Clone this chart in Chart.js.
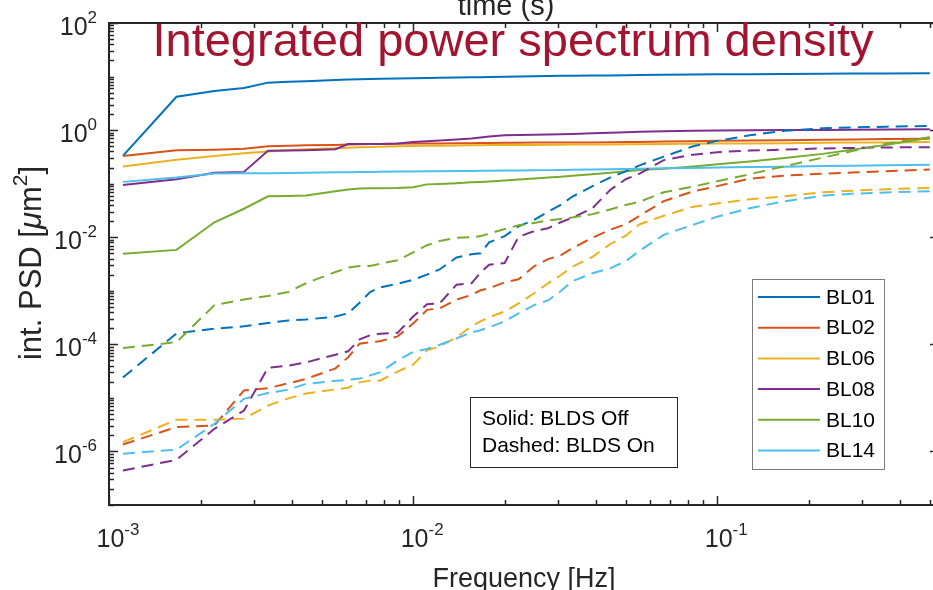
<!DOCTYPE html>
<html>
<head>
<meta charset="utf-8">
<title>Integrated PSD</title>
<script src="https://cdn.jsdelivr.net/npm/chart.js@4.4.0/dist/chart.umd.min.js"></script>
<style>
  html, body { margin: 0; padding: 0; background: #fff; overflow: hidden; }
  #wrap { width: 933px; height: 590px; overflow: hidden; position: relative; }
</style>
</head>
<body>
<div id="wrap"><canvas id="psd" width="945" height="590"></canvas></div>
<script>
// frequency bins [Hz]
const freqHz = [0.001111, 0.001667, 0.002222, 0.002778, 0.003333, 0.003889, 0.004444, 0.005556,
  0.006111, 0.006667, 0.007222, 0.007778, 0.008889, 0.01, 0.01111, 0.01222, 0.01389, 0.01556,
  0.01667, 0.01778, 0.02, 0.02222, 0.025, 0.02778, 0.03056, 0.03333, 0.03889, 0.04444, 0.05,
  0.05556, 0.06667, 0.08333, 0.1, 0.1278, 0.1667, 0.2222, 0.2778, 0.3611, 0.5];

const beamlines = ["BL01", "BL02", "BL06", "BL08", "BL10", "BL14"];

// integrated PSD [um^2], BLDS off (solid)
const bl01Off = [0.33, 4.2, 5.4, 6.1, 7.7, 8.0, 8.2, 8.6, 8.8, 8.9, 9.0, 9.1, 9.2, 9.3, 9.4, 9.5, 9.6, 9.7, 9.75, 9.8,
  9.9, 10.0, 10.1, 10.2, 10.3, 10.35, 10.45, 10.5, 10.6, 10.7, 10.8, 10.9, 11.0, 11.1, 11.2, 11.3, 11.35, 11.45, 11.5];
const bl02Off = [0.33, 0.42, 0.43, 0.45, 0.50, 0.51, 0.52, 0.53, 0.54, 0.545, 0.55, 0.55, 0.555, 0.56, 0.56, 0.565,
  0.57, 0.57, 0.575, 0.575, 0.58, 0.58, 0.585, 0.585, 0.59, 0.59, 0.59, 0.595, 0.6, 0.6, 0.61, 0.62, 0.63, 0.64,
  0.65, 0.66, 0.67, 0.68, 0.69];
const bl06Off = [0.21, 0.28, 0.33, 0.37, 0.40, 0.42, 0.44, 0.46, 0.47, 0.48, 0.485, 0.49, 0.50, 0.505, 0.51, 0.51,
  0.515, 0.52, 0.52, 0.525, 0.525, 0.53, 0.53, 0.535, 0.535, 0.54, 0.54, 0.54, 0.545, 0.545, 0.55, 0.555, 0.56,
  0.565, 0.57, 0.58, 0.585, 0.59, 0.60];
const bl08Off = [0.094, 0.121, 0.16, 0.166, 0.41, 0.415, 0.42, 0.44, 0.55, 0.55, 0.55, 0.55, 0.56, 0.60, 0.62, 0.64,
  0.67, 0.70, 0.73, 0.76, 0.80, 0.81, 0.82, 0.83, 0.84, 0.85, 0.87, 0.89, 0.91, 0.93, 0.95, 0.97, 0.98, 0.99, 1.0,
  1.01, 1.02, 1.03, 1.04];
const bl10Off = [0.0049, 0.0058, 0.019, 0.034, 0.058, 0.059, 0.060, 0.072, 0.078, 0.081, 0.082, 0.082, 0.083, 0.086,
  0.097, 0.099, 0.102, 0.106, 0.108, 0.11, 0.115, 0.12, 0.125, 0.13, 0.135, 0.14, 0.15, 0.16, 0.17, 0.18, 0.19,
  0.21, 0.23, 0.26, 0.30, 0.36, 0.43, 0.53, 0.72];
const bl14Off = [0.108, 0.13, 0.155, 0.156, 0.157, 0.158, 0.16, 0.163, 0.164, 0.165, 0.166, 0.167, 0.168, 0.169,
  0.17, 0.171, 0.172, 0.173, 0.174, 0.175, 0.176, 0.177, 0.178, 0.179, 0.18, 0.181, 0.183, 0.185, 0.187, 0.19,
  0.193, 0.197, 0.2, 0.204, 0.208, 0.213, 0.217, 0.221, 0.225];

// integrated PSD [um^2], BLDS on (dashed)
const bl01On = [2.4e-5, 1.6e-4, 1.96e-4, 2.17e-4, 2.5e-4, 2.8e-4, 2.9e-4, 3.3e-4, 3.8e-4, 6.0e-4, 9.5e-4, 1.15e-3,
  1.35e-3, 1.6e-3, 2.0e-3, 2.5e-3, 4.2e-3, 4.8e-3, 5.0e-3, 8.0e-3, 1.05e-2, 1.6e-2, 2.1e-2, 3.0e-2, 4.0e-2, 5.7e-2,
  9.0e-2, 0.13, 0.17, 0.22, 0.32, 0.50, 0.63, 0.80, 0.97, 1.08, 1.12, 1.16, 1.2];
const bl02On = [1.35e-6, 2.85e-6, 3.06e-6, 1.38e-5, 1.52e-5, 1.87e-5, 2.26e-5, 3.56e-5, 5.7e-5, 1.03e-4, 1.1e-4,
  1.14e-4, 1.41e-4, 2.44e-4, 4.4e-4, 4.7e-4, 6.8e-4, 8.4e-4, 1.02e-3, 1.11e-3, 1.44e-3, 1.64e-3, 2.87e-3, 3.9e-3,
  4.6e-3, 6.2e-3, 9.8e-3, 1.38e-2, 1.75e-2, 2.52e-2, 4.7e-2, 7.2e-2, 9.0e-2, 0.124, 0.141, 0.154, 0.161, 0.171, 0.184];
const bl06On = [1.49e-6, 3.9e-6, 3.9e-6, 4.1e-6, 7.2e-6, 9.8e-6, 1.21e-5, 1.44e-5, 1.55e-5, 1.95e-5, 2.1e-5, 2.1e-5,
  3.1e-5, 4.2e-5, 7.7e-5, 9.2e-5, 1.35e-4, 2.17e-4, 2.69e-4, 3.2e-4, 4.1e-4, 5.8e-4, 9.0e-4, 1.38e-3, 1.95e-3, 2.8e-3,
  4.3e-3, 7.4e-3, 1.07e-2, 1.75e-2, 2.52e-2, 3.7e-2, 4.26e-2, 5.1e-2, 5.8e-2, 6.9e-2, 7.4e-2, 7.9e-2, 8.3e-2];
const bl08On = [4.4e-7, 7.0e-7, 2.65e-6, 5.8e-6, 3.66e-5, 4.0e-5, 4.6e-5, 6.4e-5, 7.4e-5, 1.24e-4, 1.48e-4, 1.58e-4,
  1.64e-4, 3.3e-4, 5.6e-4, 5.8e-4, 1.3e-3, 1.38e-3, 2.2e-3, 3.06e-3, 3.3e-3, 1.02e-2, 1.3e-2, 1.47e-2, 1.9e-2, 2.3e-2,
  3.5e-2, 7.6e-2, 0.121, 0.154, 0.275, 0.348, 0.388, 0.414, 0.432, 0.455, 0.465, 0.475, 0.48];
const bl10On = [8.5e-5, 1.1e-4, 5.4e-4, 6.9e-4, 8.0e-4, 9.5e-4, 1.38e-3, 2.24e-3, 2.7e-3, 2.9e-3, 2.9e-3, 3.2e-3,
  3.7e-3, 5.2e-3, 7.1e-3, 8.5e-3, 9.8e-3, 1.0e-2, 1.05e-2, 1.17e-2, 1.42e-2, 1.67e-2, 1.85e-2, 2.05e-2, 2.2e-2,
  2.33e-2, 2.7e-2, 3.3e-2, 4.0e-2, 4.6e-2, 6.9e-2, 8.8e-2, 0.111, 0.15, 0.212, 0.306, 0.405, 0.56, 0.74];
const bl14On = [9.1e-7, 1.08e-6, 3.3e-6, 9.6e-6, 1.23e-5, 1.43e-5, 1.83e-5, 2.08e-5, 2.17e-5, 2.29e-5, 2.63e-5, 3.0e-5,
  5.0e-5, 7.2e-5, 8.2e-5, 9.8e-5, 1.29e-4, 1.67e-4, 1.83e-4, 2.08e-4, 2.69e-4, 3.8e-4, 5.4e-4, 6.6e-4, 9.8e-4,
  1.51e-3, 2.12e-3, 2.63e-3, 3.56e-3, 5.6e-3, 1.11e-2, 1.71e-2, 2.42e-2, 3.48e-2, 4.7e-2, 5.97e-2, 6.5e-2, 6.85e-2,
  7.25e-2];

// tick labels (powers of ten)
const xTickExp = [-3, -2, -1];
const yTickExp = [2, 0, -2, -4, -6];

const offSeries = [bl01Off, bl02Off, bl06Off, bl08Off, bl10Off, bl14Off];
const onSeries = [bl01On, bl02On, bl06On, bl08On, bl10On, bl14On];
const lineColors = ["#0072BD", "#D95319", "#EDB120", "#7E2F8E", "#77AC30", "#4DBEEE"];

const FONT = '"Liberation Sans", Arial, Helvetica, sans-serif';
const INK = "#262626";

function toPoints(vals) {
  return vals.map((v, i) => ({ x: freqHz[i], y: v }));
}

const datasets = [];
offSeries.forEach((vals, i) => {
  datasets.push({
    label: beamlines[i], data: toPoints(vals), borderColor: lineColors[i],
    borderWidth: 2, pointRadius: 0, tension: 0, order: 20 - i
  });
});
onSeries.forEach((vals, i) => {
  datasets.push({
    label: beamlines[i] + " (BLDS on)", data: toPoints(vals), borderColor: lineColors[i],
    borderWidth: 2, borderDash: [12, 7], pointRadius: 0, tension: 0, order: 10 - i
  });
});

// "10" with a raised exponent
function drawPow(ctx, exp, x, y, align) {
  const base = 25, sup = 17;
  ctx.font = base + "px " + FONT;
  const wBase = ctx.measureText("10").width;
  ctx.font = sup + "px " + FONT;
  const txt = String(exp);
  const wSup = ctx.measureText(txt).width;
  const left = align === "right" ? x - wBase - wSup : x - (wBase + wSup) / 2;
  ctx.textAlign = "left";
  ctx.textBaseline = "alphabetic";
  ctx.font = base + "px " + FONT;
  ctx.fillText("10", left, y);
  ctx.font = sup + "px " + FONT;
  ctx.fillText(txt, left + wBase, y - 12);
}

const axesDecor = {
  id: "axesDecor",
  afterDraw(chart) {
    const ctx = chart.ctx;
    const a = chart.chartArea;
    const xs = chart.scales.x, ys = chart.scales.y;
    ctx.save();

    // ticks on all four sides, pointing inwards
    ctx.strokeStyle = INK;
    ctx.lineWidth = 1.5;
    ctx.beginPath();
    for (let d = -3; d <= -1; d++) {
      for (let m = 1; m <= 9; m++) {
        const v = m * Math.pow(10, d);
        if (v < xs.min || v > xs.max) continue;
        const px = Math.round(xs.getPixelForValue(v)) + 0.5;
        const len = m === 1 ? 9 : 5;
        ctx.moveTo(px, a.bottom); ctx.lineTo(px, a.bottom - len);
        ctx.moveTo(px, a.top); ctx.lineTo(px, a.top + len);
      }
    }
    for (let d = -7; d <= 2; d++) {
      for (let m = 1; m <= 9; m++) {
        const v = m * Math.pow(10, d);
        if (v < ys.min * 0.999 || v > ys.max * 1.001) continue;
        const py = Math.round(ys.getPixelForValue(v)) + 0.5;
        const len = (m === 1 && yTickExp.includes(d)) ? 9 : 5;
        ctx.moveTo(a.left, py); ctx.lineTo(a.left + len, py);
        ctx.moveTo(a.right, py); ctx.lineTo(a.right - len, py);
      }
    }
    ctx.stroke();

    // axes box
    ctx.lineWidth = 2;
    ctx.strokeRect(a.left, a.top, a.right - a.left, a.bottom - a.top);

    // tick labels
    ctx.fillStyle = INK;
    xTickExp.forEach(e => drawPow(ctx, e, xs.getPixelForValue(Math.pow(10, e)) + 9, 547, "center"));
    yTickExp.forEach(e => drawPow(ctx, e, 97, ys.getPixelForValue(Math.pow(10, e)) + 12, "right"));

    // axis labels
    ctx.textAlign = "center";
    ctx.textBaseline = "alphabetic";
    ctx.font = "27px " + FONT;
    ctx.fillText("Frequency [Hz]", 524, 587);
    ctx.font = "29px " + FONT;
    ctx.fillText("time (s)", 506, 15);

    // y label: int. PSD [μm²]
    ctx.save();
    ctx.translate(41, 263);
    ctx.rotate(-Math.PI / 2);
    const parts = [
      { t: "int. PSD [", f: "31px " + FONT, dy: 0 },
      { t: "\u03bc", f: "italic 31px " + FONT, dy: 0 },
      { t: "m", f: "31px " + FONT, dy: 0 },
      { t: "2", f: "21px " + FONT, dy: -14 },
      { t: "]", f: "31px " + FONT, dy: 0 }
    ];
    let total = 0;
    parts.forEach(p => { ctx.font = p.f; p.w = ctx.measureText(p.t).width; total += p.w; });
    let cx = -total / 2;
    ctx.textAlign = "left";
    parts.forEach(p => { ctx.font = p.f; ctx.fillText(p.t, cx, p.dy); cx += p.w; });
    ctx.restore();

    // title inside the axes
    ctx.fillStyle = "#A2142F";
    ctx.textAlign = "center";
    ctx.font = "47px " + FONT;
    ctx.fillText("Integrated power spectrum density", 513, 56);

    // line style note
    ctx.fillStyle = "#fff";
    ctx.fillRect(470.5, 397.5, 207, 70);
    ctx.strokeStyle = "#262626";
    ctx.lineWidth = 1;
    ctx.strokeRect(470.5, 397.5, 207, 70);
    ctx.fillStyle = "#000";
    ctx.textAlign = "left";
    ctx.font = "21px " + FONT;
    ctx.fillText("Solid: BLDS Off", 482, 425);
    ctx.fillText("Dashed: BLDS On", 482, 452);

    // legend for the solid series
    const lx = 752.5, ly = 279.5, lw = 132, lh = 190;
    ctx.fillStyle = "#fff";
    ctx.fillRect(lx, ly, lw, lh);
    ctx.strokeStyle = "#7a7a7a";
    ctx.strokeRect(lx, ly, lw, lh);
    ctx.font = "21px " + FONT;
    ctx.textBaseline = "middle";
    chart.data.datasets.slice(0, beamlines.length).forEach((ds, i) => {
      const yy = 297 + i * 30.7;
      ctx.strokeStyle = ds.borderColor;
      ctx.lineWidth = 2;
      ctx.beginPath();
      ctx.moveTo(758, yy); ctx.lineTo(820, yy);
      ctx.stroke();
      ctx.fillStyle = "#000";
      ctx.fillText(ds.label, 826, yy + 1);
    });

    ctx.restore();
  }
};

new Chart(document.getElementById("psd"), {
  type: "line",
  data: { datasets: datasets },
  options: {
    responsive: false,
    animation: false,
    devicePixelRatio: 1,
    layout: { padding: { left: 109, top: 23, right: 6, bottom: 85 } },
    plugins: { legend: { display: false }, tooltip: { enabled: false } },
    scales: {
      x: { type: "logarithmic", min: 0.001, max: 0.536, display: false },
      y: { type: "logarithmic", min: 1e-7, max: 100, display: false }
    }
  },
  plugins: [axesDecor]
});
</script>
</body>
</html>
